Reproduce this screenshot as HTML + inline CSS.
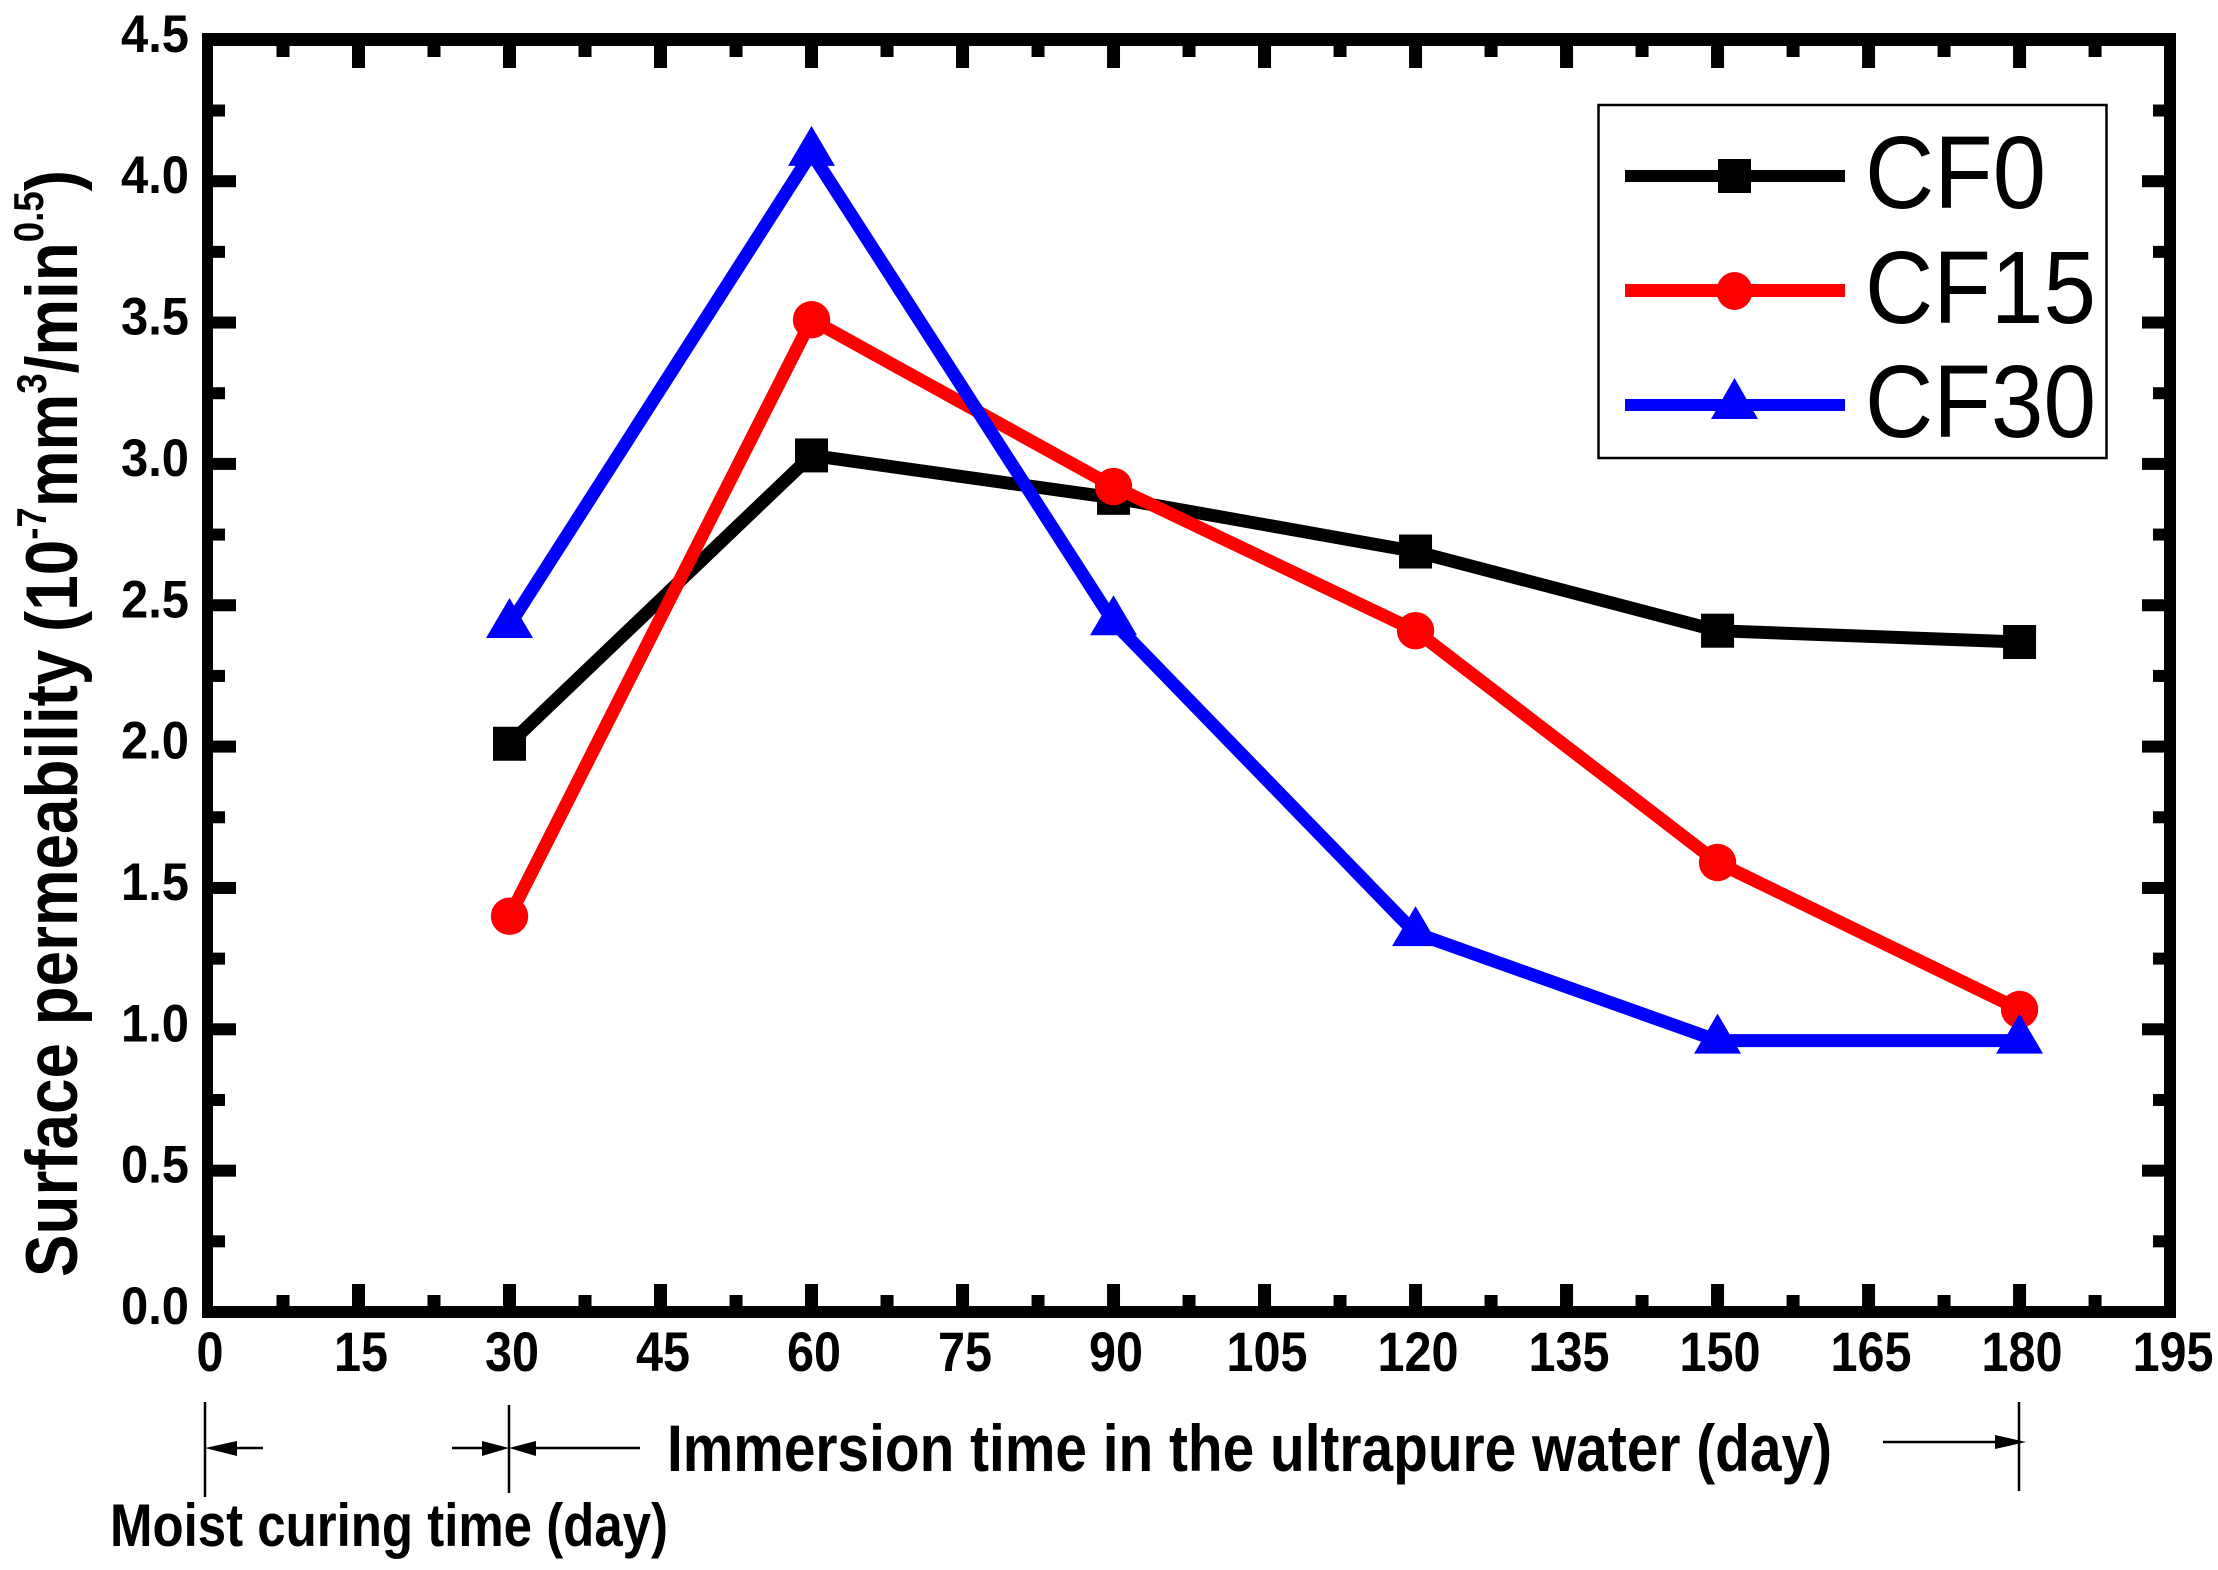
<!DOCTYPE html>
<html lang="en">
<head>
<meta charset="utf-8">
<title>Surface permeability vs immersion time</title>
<style>
html,body{margin:0;padding:0;background:#fff;}
svg{display:block;}
text{font-family:"Liberation Sans",Arial,sans-serif;fill:#000;}
.b{font-weight:bold;}
</style>
</head>
<body>
<svg id="chart" xmlns="http://www.w3.org/2000/svg" width="2218" height="1570" viewBox="0 0 2218 1570">
  <rect x="0" y="0" width="2218" height="1570" fill="#fff"/>
  <g id="ticks"></g>
  <g id="labels"></g>
  <g id="series"></g>
  <g fill="#000">
    <rect x="202" y="33" width="11" height="1285"/>
    <rect x="202" y="33" width="1974" height="13"/>
    <rect x="2164" y="33" width="12" height="1285"/>
    <rect x="202" y="1306" width="1974" height="12"/>
  </g>
  <text class="b" transform="translate(77,1277) rotate(-90)" font-size="73" textLength="1107" lengthAdjust="spacingAndGlyphs">Surface permeability (10<tspan font-size="42" dy="-31">-7</tspan><tspan dy="31">mm</tspan><tspan font-size="42" dy="-31">3</tspan><tspan dy="31">/min</tspan><tspan font-size="42" dy="-34">0.5</tspan><tspan dy="34">)</tspan></text>
  <g>
    <rect x="1598.5" y="105" width="508" height="353" fill="#fff" stroke="#000" stroke-width="2.5"/>
    <g>
      <rect x="1625" y="170" width="220" height="12" fill="#000"/>
      <rect x="1718" y="159" width="33" height="34" fill="#000"/>
      <text x="1865" y="208" font-size="103" textLength="181" lengthAdjust="spacingAndGlyphs">CF0</text>
    </g>
    <g>
      <rect x="1625" y="284" width="220" height="13" fill="#f00"/>
      <ellipse cx="1734.5" cy="291" rx="18" ry="19" fill="#f00"/>
      <text x="1865" y="323" font-size="103" textLength="231" lengthAdjust="spacingAndGlyphs">CF15</text>
    </g>
    <g>
      <rect x="1625" y="399" width="220" height="12" fill="#00f"/>
      <polygon points="1734.5,378 1758,419 1711,419" fill="#00f"/>
      <text x="1865" y="437" font-size="103" textLength="231" lengthAdjust="spacingAndGlyphs">CF30</text>
    </g>
  </g>
  <g stroke="#000" stroke-width="2.5" fill="#000">
    <line x1="205" y1="1402" x2="205" y2="1497"/>
    <line x1="509" y1="1405" x2="509" y2="1493"/>
    <line x1="2019" y1="1402" x2="2019" y2="1491"/>
    <line x1="237" y1="1448" x2="263" y2="1448"/>
    <polygon stroke="none" points="205,1448 237,1441 237,1456"/>
    <line x1="452" y1="1448" x2="482" y2="1448"/>
    <polygon stroke="none" points="509,1448 482,1441 482,1456"/>
    <line x1="536" y1="1448" x2="640" y2="1448"/>
    <polygon stroke="none" points="509,1448 536,1441 536,1456"/>
    <line x1="1883" y1="1442" x2="1995" y2="1442"/>
    <polygon stroke="none" points="2026,1442 1995,1435 1995,1449"/>
  </g>
  <text class="b" x="667" y="1471" font-size="66" textLength="1165" lengthAdjust="spacingAndGlyphs">Immersion time in the ultrapure water (day)</text>
  <text class="b" x="110" y="1546" font-size="60" textLength="558" lengthAdjust="spacingAndGlyphs">Moist curing time (day)</text>
</svg>
<script>
const xTickLabels = ["0","15","30","45","60","75","90","105","120","135","150","165","180","195"];
const yTickLabels = ["0.0","0.5","1.0","1.5","2.0","2.5","3.0","3.5","4.0","4.5"];
const days = [30,60,90,120,150,180];
const cf0 = [2.01,3.03,2.88,2.69,2.41,2.37];
const cf15 = [1.40,3.51,2.92,2.41,1.59,1.07];
const cf30 = [2.43,4.10,2.44,1.34,0.96,0.96];

const NS = 'http://www.w3.org/2000/svg';
const xScale = v => 207.5 + v * 10.067;
const yScale = v => 1312 - v * 282.7;

function make(tag, attrs, parent) {
  const el = document.createElementNS(NS, tag);
  for (const k in attrs) el.setAttribute(k, attrs[k]);
  parent.appendChild(el);
  return el;
}

const ticks = document.getElementById('ticks');
const labels = document.getElementById('labels');

xTickLabels.forEach((lab, i) => {
  const v = Number(lab);
  const px = xScale(v);
  if (i > 0 && i < xTickLabels.length - 1) {
    const up = make('rect', {x: px - 6.5, y: 1284, width: 13, height: 24, fill: '#000'}, ticks);
    
    
    const dn = make('rect', {x: px - 6.5, y: 44, width: 13, height: 24, fill: '#000'}, ticks);
    
    
  }
  if (i < xTickLabels.length - 1) {
    const mx = xScale(v + 7.5);
    const a = make('rect', {x: mx - 6.5, y: 1295, width: 13, height: 13, fill: '#000'}, ticks);
    
    
    const b = make('rect', {x: mx - 6.5, y: 44, width: 13, height: 13, fill: '#000'}, ticks);
    
    
  }
  const t = make('text', {x: px + 2.5, y: 1371, 'text-anchor': 'middle', 'font-size': 56, 'font-weight': 'bold', textLength: lab.length * 27, lengthAdjust: 'spacingAndGlyphs'}, labels);
  
  
  t.textContent = lab;
});

yTickLabels.forEach((lab, i) => {
  const v = Number(lab);
  const py = yScale(v);
  if (i > 0 && i < yTickLabels.length - 1) {
    const l = make('rect', {x: 211, y: py - 6, width: 25, height: 12, fill: '#000'}, ticks);
    
    
    const r = make('rect', {x: 2142, y: py - 6, width: 24, height: 12, fill: '#000'}, ticks);
    
    
  }
  if (i < yTickLabels.length - 1) {
    const my = yScale(v + 0.25);
    const l2 = make('rect', {x: 211, y: my - 6, width: 14, height: 12, fill: '#000'}, ticks);
    
    
    const r2 = make('rect', {x: 2153, y: my - 6, width: 13, height: 12, fill: '#000'}, ticks);
    
    
  }
  const t = make('text', {x: 189, y: py + 12, 'text-anchor': 'end', 'font-size': 53, 'font-weight': 'bold', textLength: 68, lengthAdjust: 'spacingAndGlyphs'}, labels);
  
  
  t.textContent = lab;
});

const seriesRoot = document.getElementById('series');

function drawSeries(name, values, color, lineWidth, marker) {
  const g = make('g', {}, seriesRoot);
  
  
  const pts = values.map((v, i) => xScale(days[i]) + ',' + yScale(v)).join(' ');
  const line = make('polyline', {points: pts, fill: 'none', stroke: color, 'stroke-width': lineWidth, 'stroke-linejoin': 'miter'}, g);
  
  
  values.forEach((v, i) => {
    const m = marker(g, xScale(days[i]), yScale(v), color);
    
    
  });
}

const square = (g, x, y, c) => make('rect', {x: x - 16.5, y: y - 17, width: 33, height: 34, fill: c}, g);
const circle = (g, x, y, c) => make('circle', {cx: x, cy: y, r: 18.7, fill: c}, g);
const triangle = (g, x, y, c) => make('polygon', {points: x + ',' + (y - 27) + ' ' + (x + 23.5) + ',' + (y + 13) + ' ' + (x - 23.5) + ',' + (y + 13), fill: c}, g);

drawSeries('cf0', cf0, '#000000', 13, square);
drawSeries('cf15', cf15, '#ff0000', 13, circle);
drawSeries('cf30', cf30, '#0000ff', 13, triangle);
</script>
</body>
</html>
